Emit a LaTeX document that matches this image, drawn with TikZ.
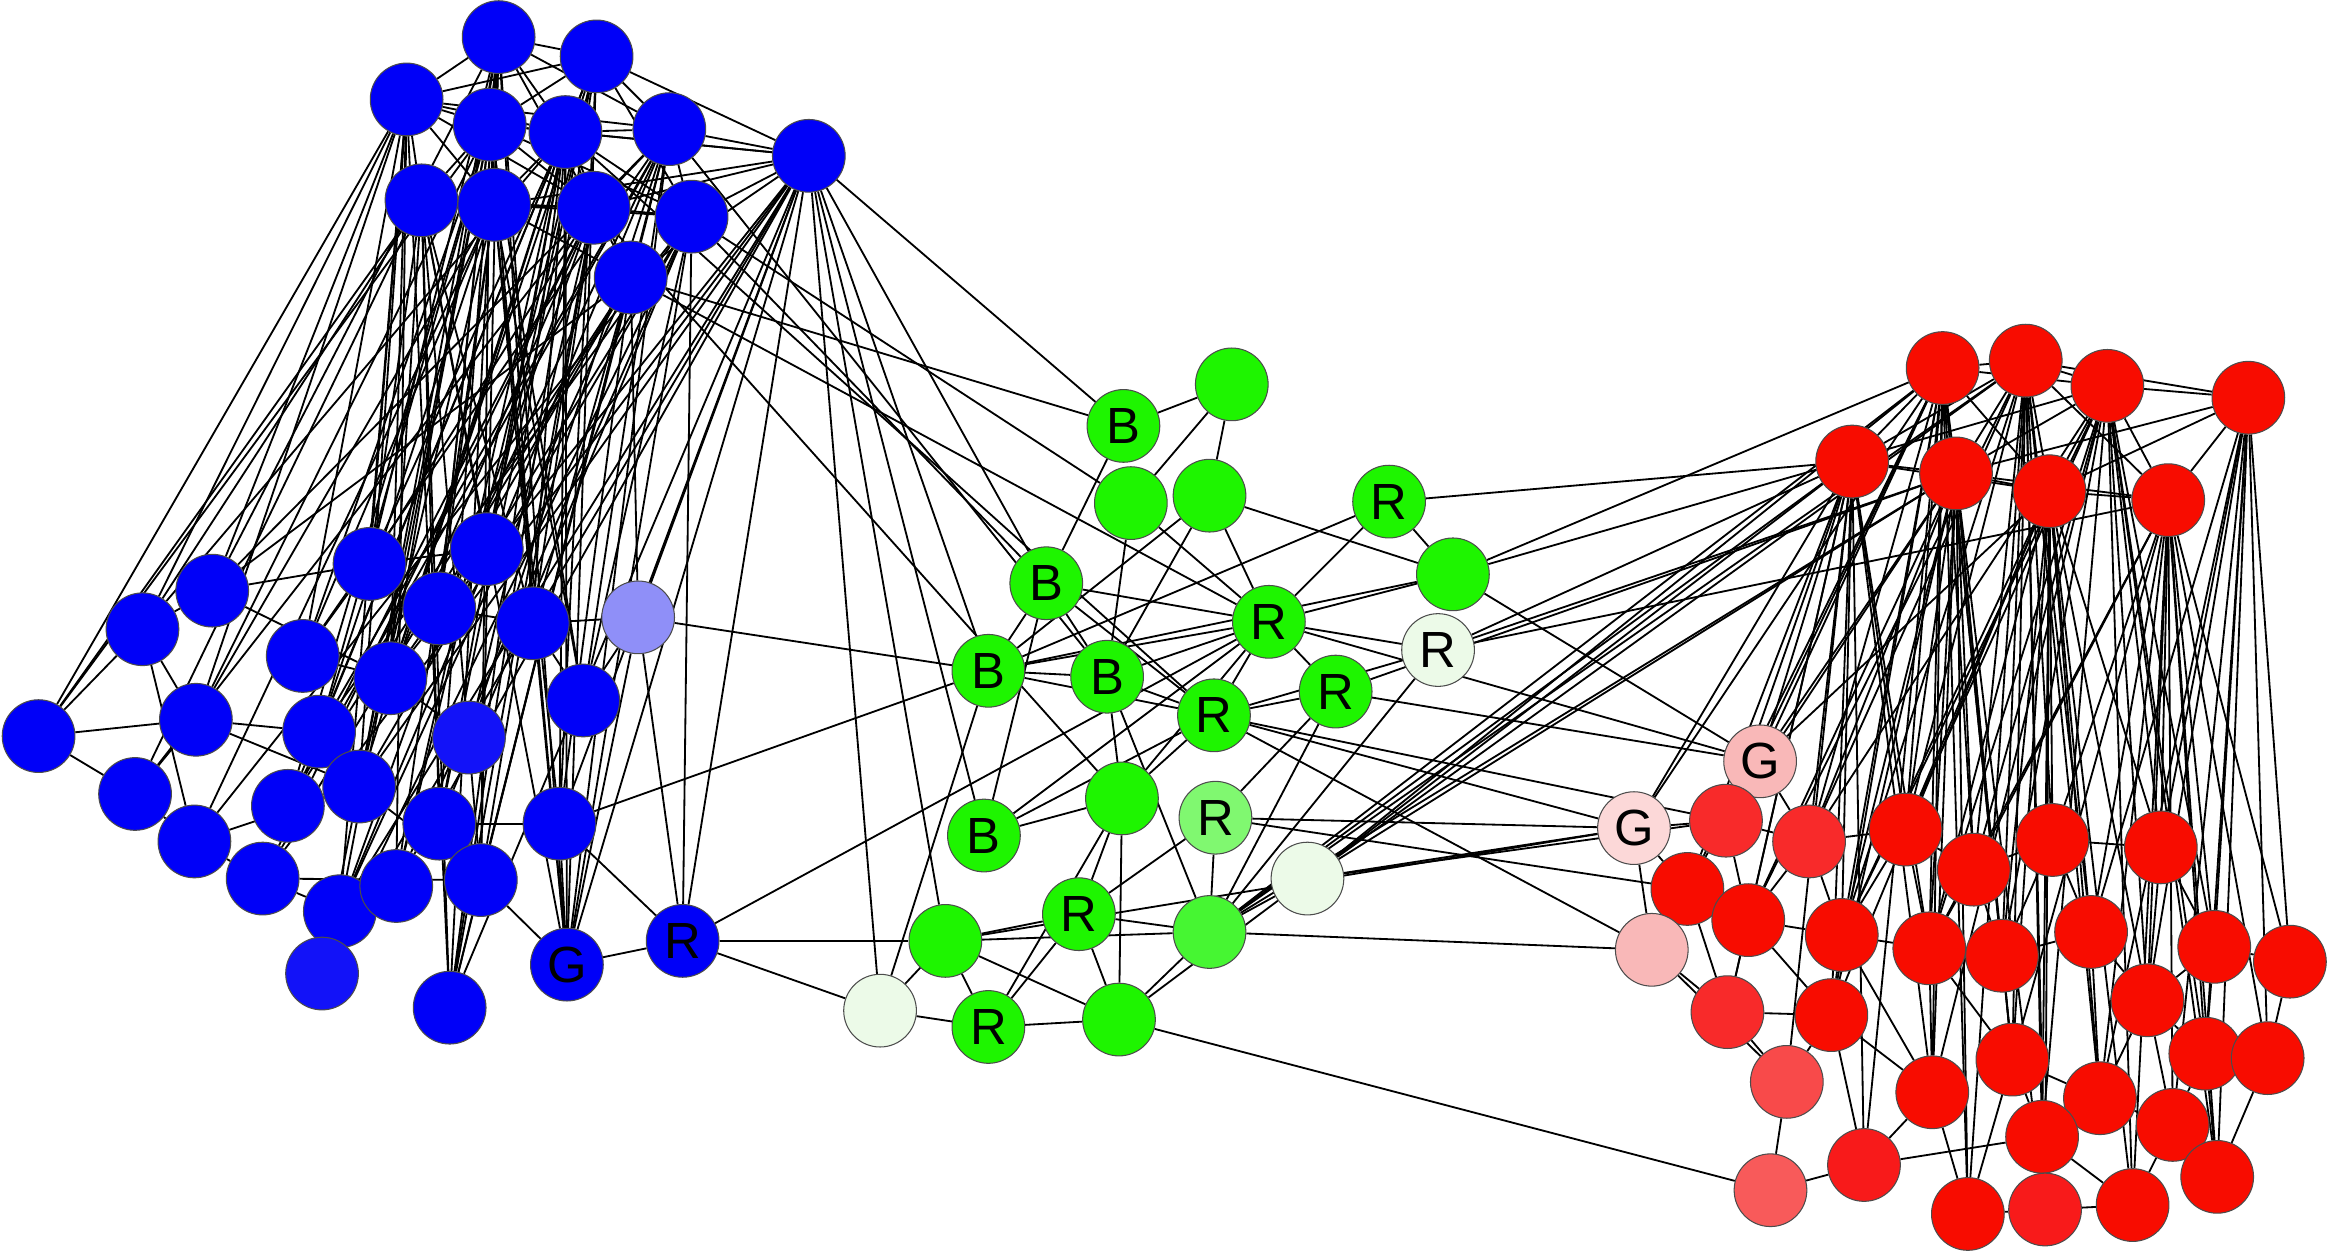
\documentclass[tikz,border=0pt]{standalone}
\usepackage{fontspec}
\setmainfont{Liberation Sans}
\usetikzlibrary{backgrounds}

\definecolor{bfill}{RGB}{0,0,248}
\definecolor{bfillb}{RGB}{18,18,248}
\definecolor{lavfill}{RGB}{143,143,248}
\definecolor{gfill}{RGB}{30,245,0}
\definecolor{gfillb}{RGB}{70,246,50}
\definecolor{gfillc}{RGB}{128,248,112}
\definecolor{gpale}{RGB}{236,250,232}
\definecolor{rfill}{RGB}{248,12,0}
\definecolor{rfillb}{RGB}{248,26,26}
\definecolor{rfillc}{RGB}{248,42,42}
\definecolor{rfilld}{RGB}{248,74,74}
\definecolor{rfille}{RGB}{248,90,90}
\definecolor{pink}{RGB}{249,184,184}
\definecolor{palepink}{RGB}{252,216,216}

\begin{document}
\begin{tikzpicture}[x=0.02cm, y=-0.02cm]
\tikzset{vertex/.style={circle, draw=black!70, line width=0.4pt, minimum size=0.98cm, inner sep=0pt, font=\fontsize{19.5}{21}\selectfont},
  bnode/.style={vertex, fill=bfill}, gnode/.style={vertex, fill=gfill}, rnode/.style={vertex, fill=rfill},
  edge/.style={line width=0.7pt, black}}
\useasboundingbox (0,0) rectangle (1568,844);

% blue group, upper part
\node[bnode] (bt1) at (336,25) {};
\node[bnode] (bt2) at (402,38) {};
\node[bnode] (bt3) at (274,67) {};
\node[bnode] (bt4) at (330,84) {};
\node[bnode] (bt5) at (381,89) {};
\node[bnode] (bt6) at (451,87) {};
\node[bnode] (bt7) at (545,105) {};
\node[bnode] (bt8) at (284,135) {};
\node[bnode] (bt9) at (333,138) {};
\node[bnode] (bt10) at (400,140) {};
\node[bnode] (bt11) at (466,146) {};
\node[bnode] (bt12) at (425,187) {};
% blue group, lower part
\node[bnode] (bb1) at (26,496) {};
\node[bnode] (bb2) at (96,424) {};
\node[bnode] (bb3) at (143,398) {};
\node[bnode] (bb4) at (132,485) {};
\node[bnode] (bb5) at (91,535) {};
\node[bnode] (bb6) at (131,567) {};
\node[bnode] (bb7) at (177,592) {};
\node[bnode] (bb8) at (204,442) {};
\node[bnode] (bb9) at (249,380) {};
\node[bnode] (bb10) at (328,370) {};
\node[bnode] (bb11) at (296,410) {};
\node[bnode] (bb12) at (263,457) {};
\node[bnode] (bb13) at (215,493) {};
\node[bnode] (bb14) at (359,420) {};
\node[bnode] (bb15) at (242,530) {};
\node[bnode] (bb16) at (194,543) {};
\node[bnode] (bb17) at (296,555) {};
\node[bnode] (bb18) at (229,614) {};
\node[bnode] (bb19) at (267,597) {};
\node[bnode] (bb20) at (324,593) {};
\node[bnode, fill=bfillb] (bb21) at (217,656) {};
\node[bnode] (bb22) at (303,679) {};
\node[bnode] (bb23) at (393,472) {};
\node[bnode] (bb24) at (377,555) {};
\node[bnode, fill=bfillb] (bb25) at (316,497) {};
\node[bnode, fill=lavfill] (bb26) at (430,416) {};
\node[bnode] (bb27) at (382,650) {G};
\node[bnode] (bb28) at (460,634) {R};

% green group
\node[gnode] (g1) at (757,287) {B};
\node[gnode] (g2) at (830,259) {};
\node[gnode] (g3) at (762,339) {};
\node[gnode] (g4) at (815,334) {};
\node[gnode] (g5) at (936,338) {R};
\node[gnode] (g6) at (705,393) {B};
\node[gnode] (g7) at (979,387) {};
\node[gnode] (g8) at (855,419) {R};
\node[gnode, fill=gpale] (g9) at (969,438) {R};
\node[gnode] (g10) at (666,452) {B};
\node[gnode] (g11) at (746,456) {B};
\node[gnode] (g12) at (900,466) {R};
\node[gnode] (g13) at (818,482) {R};
\node[gnode] (g14) at (756,538) {};
\node[gnode, fill=gfillc] (g15) at (819,551) {R};
\node[gnode] (g16) at (663,563) {B};
\node[gnode, fill=gpale] (g17) at (881,592) {};
\node[gnode] (g18) at (727,616) {R};
\node[gnode] (g19) at (637,634) {};
\node[gnode, fill=gfillb] (g20) at (815,628) {};
\node[gnode, fill=gpale] (g21) at (593,681) {};
\node[gnode] (g22) at (666,692) {R};
\node[gnode] (g23) at (754,687) {};

% red group, upper part
\node[rnode] (rt1) at (1309,248) {};
\node[rnode] (rt2) at (1365,243) {};
\node[rnode] (rt3) at (1420,260) {};
\node[rnode] (rt4) at (1515,268) {};
\node[rnode] (rt5) at (1248,311) {};
\node[rnode] (rt6) at (1318,319) {};
\node[rnode] (rt7) at (1381,331) {};
\node[rnode] (rt8) at (1461,337) {};
% red group, lower part
\node[rnode, fill=pink] (rg1) at (1186,513) {G};
\node[rnode, fill=palepink] (rg2) at (1101,558) {G};
\node[rnode, fill=rfillc] (rb1) at (1163,553) {};
\node[rnode, fill=rfillc] (rb2) at (1219,567) {};
\node[rnode] (rb3) at (1284,559) {};
\node[rnode] (rb4) at (1330,586) {};
\node[rnode] (rb5) at (1383,566) {};
\node[rnode] (rb6) at (1456,571) {};
\node[rnode] (rb7) at (1137,599) {};
\node[rnode] (rb8) at (1178,620) {};
\node[rnode, fill=pink] (rb9) at (1113,640) {};
\node[rnode] (rb10) at (1241,630) {};
\node[rnode] (rb11) at (1300,639) {};
\node[rnode] (rb12) at (1349,644) {};
\node[rnode] (rb13) at (1409,628) {};
\node[rnode] (rb14) at (1492,638) {};
\node[rnode] (rb15) at (1543,648) {};
\node[rnode] (rb16) at (1447,674) {};
\node[rnode, fill=rfillc] (rb17) at (1164,682) {};
\node[rnode] (rb18) at (1234,684) {};
\node[rnode] (rb19) at (1486,710) {};
\node[rnode] (rb20) at (1528,713) {};
\node[rnode] (rb21) at (1356,714) {};
\node[rnode, fill=rfilld] (rb22) at (1204,729) {};
\node[rnode] (rb23) at (1302,736) {};
\node[rnode] (rb24) at (1415,740) {};
\node[rnode] (rb25) at (1376,766) {};
\node[rnode] (rb26) at (1464,758) {};
\node[rnode, fill=rfillb] (rb27) at (1256,785) {};
\node[rnode, fill=rfille] (rb28) at (1193,802) {};
\node[rnode] (rb29) at (1494,793) {};
\node[rnode] (rb30) at (1326,818) {};
\node[rnode, fill=rfillb] (rb31) at (1378,815) {};
\node[rnode] (rb32) at (1437,812) {};

\begin{scope}[on background layer]
% blue edges
\foreach \t in {bt2,bt3,bt4,bt5,bt6,bt9,bt10,bb9,bb11,bb12,bb15,bb17,bb20,bb22,bb27,bb14,bb3} \draw[edge] (bt1) -- (\t);
\foreach \t in {bt3,bt4,bt5,bt6,bt7,bt11,bb10,bb12,bb13,bb17,bb19,bb22,bb24,bb27,bb16} \draw[edge] (bt2) -- (\t);
\foreach \t in {bt4,bt5,bt8,bt9,bt10,bt6,bb1,bb2,bb3,bb4,bb8,bb9,bb12,bb15,bb18,bb19,bb22} \draw[edge] (bt3) -- (\t);
\foreach \t in {bt5,bt8,bt9,bt10,bt11,bt7,bb1,bb4,bb8,bb11,bb13,bb16,bb18,bb20,bb23,bb27,bb21} \draw[edge] (bt4) -- (\t);
\foreach \t in {bt6,bt7,bt9,bt10,bt11,bt12,bb2,bb9,bb10,bb12,bb14,bb15,bb17,bb19,bb22,bb27,bb24} \draw[edge] (bt5) -- (\t);
\foreach \t in {bt7,bt10,bt11,bt12,bb3,bb8,bb11,bb13,bb16,bb18,bb20,bb23,bb25,bb27} \draw[edge] (bt6) -- (\t);
\foreach \t in {bt11,bt12,bt10,bt9,bb7,bb12,bb15,bb18,bb19,bb21,bb24,bb26,bb27,bb28,bb22} \draw[edge] (bt7) -- (\t);
\foreach \t in {bt9,bt10,bb1,bb2,bb5,bb9,bb10,bb12,bb14,bb17,bb20,bb22,bb27} \draw[edge] (bt8) -- (\t);
\foreach \t in {bt10,bt11,bt12,bb4,bb6,bb8,bb11,bb13,bb15,bb19,bb23,bb24,bb27} \draw[edge] (bt9) -- (\t);
\foreach \t in {bt11,bt12,bb5,bb7,bb9,bb12,bb14,bb16,bb18,bb20,bb22,bb25} \draw[edge] (bt10) -- (\t);
\foreach \t in {bb6,bb10,bb13,bb15,bb17,bb19,bb21,bb23,bb27,bb28} \draw[edge] (bt11) -- (\t);
\foreach \t in {bb3,bb7,bb11,bb14,bb16,bb18,bb20,bb22,bb24,bb26} \draw[edge] (bt12) -- (\t);
\foreach \t in {bb2,bb4,bb5} \draw[edge] (bb1) -- (\t);
\foreach \t in {bb3,bb4,bb6} \draw[edge] (bb2) -- (\t);
\foreach \t in {bb9,bb12} \draw[edge] (bb3) -- (\t);
\foreach \t in {bb13,bb15,bb5} \draw[edge] (bb4) -- (\t);
\foreach \t in {bb7,bb15} \draw[edge] (bb6) -- (\t);
\foreach \t in {bb18,bb20} \draw[edge] (bb7) -- (\t);
\foreach \t in {bb12,bb9} \draw[edge] (bb8) -- (\t);
\foreach \t in {bb14,bb12} \draw[edge] (bb11) -- (\t);
\foreach \t in {bb26,bb23} \draw[edge] (bb14) -- (\t);
\foreach \t in {bb27,bb22} \draw[edge] (bb20) -- (\t);
\foreach \t in {bb27,bb28} \draw[edge] (bb24) -- (\t);
\foreach \t in {bb27,bb28} \draw[edge] (bb26) -- (\t);
\draw[edge] (bb5) -- (bb6);
\draw[edge] (bb9) -- (bb10);
\draw[edge] (bb12) -- (bb25);
\draw[edge] (bb15) -- (bb20);
\draw[edge] (bb17) -- (bb24);
\draw[edge] (bb23) -- (bb26);
\draw[edge] (bb27) -- (bb28);
% blue to green
\foreach \t in {g1,g6,g10,g16,g21,g19} \draw[edge] (bt7) -- (\t);
\foreach \t in {g1,g8} \draw[edge] (bt12) -- (\t);
\foreach \t in {g3,g6} \draw[edge] (bt11) -- (\t);
\draw[edge] (bt6) -- (g11);
\draw[edge] (bt10) -- (g14);
\draw[edge] (bt5) -- (g13);
\draw[edge] (bb26) -- (g10);
\draw[edge] (bb24) -- (g10);
\foreach \t in {g8,g19,g21} \draw[edge] (bb28) -- (\t);
% green edges
\foreach \t in {g2,g6} \draw[edge] (g1) -- (\t);
\foreach \t in {g3,g4} \draw[edge] (g2) -- (\t);
\foreach \t in {g11,g8} \draw[edge] (g3) -- (\t);
\foreach \t in {g10,g8,g7,g11} \draw[edge] (g4) -- (\t);
\foreach \t in {g7,g8,g10} \draw[edge] (g5) -- (\t);
\foreach \t in {g10,g11,g8,g13,g16} \draw[edge] (g6) -- (\t);
\foreach \t in {g8,g10} \draw[edge] (g7) -- (\t);
\foreach \t in {g10,g11,g12,g13,g9,g14,g16} \draw[edge] (g8) -- (\t);
\foreach \t in {g13,g20} \draw[edge] (g9) -- (\t);
\foreach \t in {g11,g13,g21} \draw[edge] (g10) -- (\t);
\foreach \t in {g13,g14,g20} \draw[edge] (g11) -- (\t);
\foreach \t in {g13,g20,g15} \draw[edge] (g12) -- (\t);
\foreach \t in {g14,g16} \draw[edge] (g13) -- (\t);
\foreach \t in {g16,g18,g22,g23} \draw[edge] (g14) -- (\t);
\foreach \t in {g18,g20} \draw[edge] (g15) -- (\t);
\foreach \t in {g20,g23} \draw[edge] (g17) -- (\t);
\foreach \t in {g19,g20,g22,g23} \draw[edge] (g18) -- (\t);
\foreach \t in {g21,g22,g20,g23} \draw[edge] (g19) -- (\t);
\draw[edge] (g20) -- (g23);
\draw[edge] (g21) -- (g22);
\draw[edge] (g22) -- (g23);
% green to red
\draw[edge] (g5) -- (rt5);
\foreach \t in {rt1,rt3,rg1} \draw[edge] (g7) -- (\t);
\foreach \t in {rt5,rt6,rt8} \draw[edge] (g9) -- (\t);
\draw[edge] (g8) -- (rg1);
\foreach \t in {rg1,rt6} \draw[edge] (g12) -- (\t);
\foreach \t in {rg2,rb9,rb1} \draw[edge] (g13) -- (\t);
\foreach \t in {rg2,rb7} \draw[edge] (g15) -- (\t);
\foreach \t in {rg2,rt5,rt1,rt2,rt6,rb1} \draw[edge] (g17) -- (\t);
\foreach \t in {rt5,rt6,rt1,rt2,rb9} \draw[edge] (g20) -- (\t);
\draw[edge] (g23) -- (rb28);
\draw[edge] (g19) -- (rg2);
% red edges
\foreach \t in {rt2,rt3,rt5,rt6,rt7,rg1,rb1,rb2,rb3,rb4,rb7,rb10,rb11,rb12,rb18,rb21,rb23,rb27,rb30} \draw[edge] (rt1) -- (\t);
\foreach \t in {rt3,rt4,rt5,rt6,rt7,rt8,rb2,rb3,rb4,rb5,rb8,rb10,rb12,rb13,rb21,rb24,rb25,rb31,rb30} \draw[edge] (rt2) -- (\t);
\foreach \t in {rt4,rt6,rt7,rt8,rb2,rb3,rb4,rb6,rb10,rb11,rb12,rb14,rb16,rb19,rb23,rb25,rb29,rb32} \draw[edge] (rt3) -- (\t);
\foreach \t in {rt8,rt7,rt6,rb6,rb13,rb14,rb15,rb16,rb19,rb20,rb24,rb26,rb29} \draw[edge] (rt4) -- (\t);
\foreach \t in {rt6,rt7,rg1,rg2,rb1,rb2,rb3,rb7,rb8,rb10,rb11,rb17,rb18,rb22,rb23,rb27} \draw[edge] (rt5) -- (\t);
\foreach \t in {rt7,rt8,rg1,rb1,rb2,rb3,rb4,rb8,rb10,rb11,rb12,rb18,rb21,rb23,rb30,rb31} \draw[edge] (rt6) -- (\t);
\foreach \t in {rt8,rg1,rb3,rb5,rb6,rb10,rb11,rb12,rb13,rb16,rb18,rb21,rb24,rb25,rb31,rb32} \draw[edge] (rt7) -- (\t);
\foreach \t in {rb4,rb5,rb6,rb11,rb13,rb14,rb15,rb16,rb19,rb20,rb21,rb24,rb26,rb29,rb32} \draw[edge] (rt8) -- (\t);
\foreach \t in {rb1,rb2} \draw[edge] (rg1) -- (\t);
\foreach \t in {rt1,rb1,rb7,rb9} \draw[edge] (rg2) -- (\t);
\foreach \t in {rb2,rb7,rb8} \draw[edge] (rb1) -- (\t);
\foreach \t in {rb3,rb8,rb10} \draw[edge] (rb2) -- (\t);
\foreach \t in {rb4,rb10,rb11} \draw[edge] (rb3) -- (\t);
\foreach \t in {rb5,rb11,rb12} \draw[edge] (rb4) -- (\t);
\foreach \t in {rb6,rb13,rb12} \draw[edge] (rb5) -- (\t);
\foreach \t in {rb14,rb16} \draw[edge] (rb6) -- (\t);
\foreach \t in {rb8,rb9,rb17} \draw[edge] (rb7) -- (\t);
\foreach \t in {rb10,rb17,rb18} \draw[edge] (rb8) -- (\t);
\foreach \t in {rb17,rb22} \draw[edge] (rb9) -- (\t);
\foreach \t in {rb11,rb18,rb23} \draw[edge] (rb10) -- (\t);
\foreach \t in {rb12,rb21,rb23} \draw[edge] (rb11) -- (\t);
\foreach \t in {rb13,rb21} \draw[edge] (rb12) -- (\t);
\foreach \t in {rb16,rb24} \draw[edge] (rb13) -- (\t);
\foreach \t in {rb15,rb16,rb19} \draw[edge] (rb14) -- (\t);
\foreach \t in {rb19,rb24,rb26} \draw[edge] (rb16) -- (\t);
\foreach \t in {rb18,rb22} \draw[edge] (rb17) -- (\t);
\foreach \t in {rb22,rb23,rb27} \draw[edge] (rb18) -- (\t);
\foreach \t in {rb20,rb26,rb29} \draw[edge] (rb19) -- (\t);
\foreach \t in {rb24,rb25,rb30} \draw[edge] (rb21) -- (\t);
\foreach \t in {rb27,rb30} \draw[edge] (rb23) -- (\t);
\foreach \t in {rb25,rb26} \draw[edge] (rb24) -- (\t);
\foreach \t in {rb31,rb32} \draw[edge] (rb25) -- (\t);
\foreach \t in {rb29,rb32} \draw[edge] (rb26) -- (\t);
\foreach \t in {rb28,rb25} \draw[edge] (rb27) -- (\t);
\draw[edge] (rb15) -- (rb20);
\draw[edge] (rb20) -- (rb29);
\draw[edge] (rb22) -- (rb28);
\draw[edge] (rb30) -- (rb31);
\draw[edge] (rb31) -- (rb32);
\end{scope}
\end{tikzpicture}
\end{document}
